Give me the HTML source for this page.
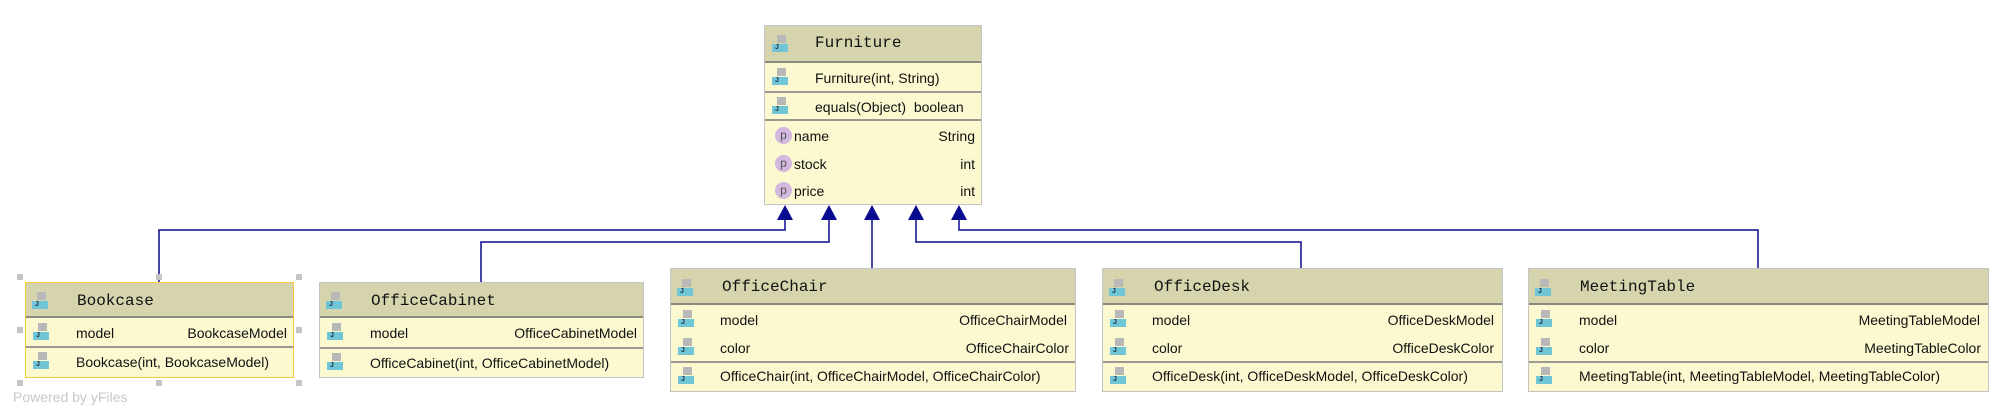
<!DOCTYPE html>
<html><head><meta charset="utf-8"><style>
body{margin:0;width:2013px;height:416px;background:#fff;position:relative;overflow:hidden;font-family:"Liberation Sans",sans-serif;}
.box{position:absolute;background:#fcf9d1;border:1px solid #c4c4c4;box-sizing:border-box;}
.hd{position:absolute;left:0;right:0;top:0;background:#d6d4ad;border-bottom:2px solid #8a8a80;box-sizing:border-box;}
.div{position:absolute;left:0;right:0;height:0;border-top:2px solid #9a9a90;}
.t{position:absolute;font-size:14px;color:#111;white-space:nowrap;line-height:16px;}
.h{position:absolute;font-family:"Liberation Mono",monospace;font-size:16px;color:#111;line-height:18px;}
.r{position:absolute;font-size:14px;color:#111;white-space:nowrap;line-height:16px;text-align:right;}
.ic{position:absolute;width:16px;height:18px;}
.ic:before{content:"";position:absolute;left:5px;top:0;width:9px;height:8px;background:#b8b8b8;}
.ic:after{content:"J";position:absolute;left:0;top:9px;width:16px;height:8px;background:#6fc6d6;font-size:7px;line-height:8px;color:#234;padding-left:3px;box-sizing:border-box;font-weight:bold;}
.p{position:absolute;width:17px;height:17px;border-radius:50%;background:#d3b8e0;color:#555;font-size:12px;line-height:16px;text-align:center;}
.hdl{position:absolute;width:6px;height:6px;background:#c4c4c4;}
</style></head><body>
<svg width="2013" height="416" style="position:absolute;left:0;top:0" fill="none" stroke="#0a0a90" stroke-width="1.5">
<polyline points="159,282 159,230 785,230 785,218"/>
<polyline points="481,282 481,242 829,242 829,218"/>
<polyline points="872,268 872,218"/>
<polyline points="1301,268 1301,242 916,242 916,218"/>
<polyline points="1758,268 1758,230 959,230 959,218"/>
<g fill="#0a0a90" stroke="none">
<polygon points="785,205 777,220 793,220"/>
<polygon points="829,205 821,220 837,220"/>
<polygon points="872,205 864,220 880,220"/>
<polygon points="916,205 908,220 924,220"/>
<polygon points="959,205 951,220 967,220"/>
</g>
</svg>

<!-- Furniture -->
<div class="box" style="left:764px;top:25px;width:218px;height:180px;">
<div class="hd" style="height:37px"></div>
<div class="ic" style="left:7px;top:9px"></div>
<div class="h" style="left:50px;top:8px">Furniture</div>
<div class="ic" style="left:7px;top:42px"></div>
<div class="t" style="left:50px;top:44px">Furniture(int, String)</div>
<div class="div" style="top:65px"></div>
<div class="ic" style="left:7px;top:71px"></div>
<div class="t" style="left:50px;top:73px">equals(Object)&nbsp; boolean</div>
<div class="div" style="top:93px"></div>
<div class="p" style="left:10px;top:101px">p</div>
<div class="t" style="left:29px;top:102px">name</div><div class="r" style="right:6px;top:102px">String</div>
<div class="p" style="left:10px;top:129px">p</div>
<div class="t" style="left:29px;top:130px">stock</div><div class="r" style="right:6px;top:130px">int</div>
<div class="p" style="left:10px;top:156px">p</div>
<div class="t" style="left:29px;top:157px">price</div><div class="r" style="right:6px;top:157px">int</div>
</div>

<!-- Bookcase -->
<div class="box" style="left:25px;top:282px;width:269px;height:96px;border:1.5px solid #f5c940;">
<div class="hd" style="height:35px"></div>
<div class="ic" style="left:6px;top:9px"></div>
<div class="h" style="left:51px;top:9px">Bookcase</div>
<div class="ic" style="left:7px;top:40px"></div>
<div class="t" style="left:50px;top:42px">model</div><div class="r" style="right:6px;top:42px">BookcaseModel</div>
<div class="div" style="top:63px"></div>
<div class="ic" style="left:7px;top:69px"></div>
<div class="t" style="left:50px;top:71px">Bookcase(int, BookcaseModel)</div>
</div>
<div class="hdl" style="left:17px;top:274px"></div><div class="hdl" style="left:156px;top:274px"></div><div class="hdl" style="left:296px;top:274px"></div>
<div class="hdl" style="left:17px;top:327px"></div><div class="hdl" style="left:296px;top:327px"></div>
<div class="hdl" style="left:17px;top:380px"></div><div class="hdl" style="left:156px;top:380px"></div><div class="hdl" style="left:296px;top:380px"></div>
<div style="position:absolute;left:13px;top:389px;font-size:14px;color:#c8c8c8;">Powered by yFiles</div>

<!-- OfficeCabinet -->
<div class="box" style="left:319px;top:282px;width:325px;height:96px;">
<div class="hd" style="height:35px"></div>
<div class="ic" style="left:6px;top:9px"></div>
<div class="h" style="left:51px;top:9px">OfficeCabinet</div>
<div class="ic" style="left:7px;top:40px"></div>
<div class="t" style="left:50px;top:42px">model</div><div class="r" style="right:6px;top:42px">OfficeCabinetModel</div>
<div class="div" style="top:64px"></div>
<div class="ic" style="left:7px;top:70px"></div>
<div class="t" style="left:50px;top:72px">OfficeCabinet(int, OfficeCabinetModel)</div>
</div>

<!-- OfficeChair -->
<div class="box" style="left:670px;top:268px;width:406px;height:124px;">
<div class="hd" style="height:36px"></div>
<div class="ic" style="left:6px;top:10px"></div>
<div class="h" style="left:51px;top:9px">OfficeChair</div>
<div class="ic" style="left:7px;top:41px"></div>
<div class="t" style="left:49px;top:43px">model</div><div class="r" style="right:8px;top:43px">OfficeChairModel</div>
<div class="ic" style="left:7px;top:69px"></div>
<div class="t" style="left:49px;top:71px">color</div><div class="r" style="right:6px;top:71px">OfficeChairColor</div>
<div class="div" style="top:92px"></div>
<div class="ic" style="left:7px;top:98px"></div>
<div class="t" style="left:49px;top:99px">OfficeChair(int, OfficeChairModel, OfficeChairColor)</div>
</div>

<!-- OfficeDesk -->
<div class="box" style="left:1102px;top:268px;width:401px;height:124px;">
<div class="hd" style="height:36px"></div>
<div class="ic" style="left:6px;top:10px"></div>
<div class="h" style="left:51px;top:9px">OfficeDesk</div>
<div class="ic" style="left:7px;top:41px"></div>
<div class="t" style="left:49px;top:43px">model</div><div class="r" style="right:8px;top:43px">OfficeDeskModel</div>
<div class="ic" style="left:7px;top:69px"></div>
<div class="t" style="left:49px;top:71px">color</div><div class="r" style="right:8px;top:71px">OfficeDeskColor</div>
<div class="div" style="top:92px"></div>
<div class="ic" style="left:7px;top:98px"></div>
<div class="t" style="left:49px;top:99px">OfficeDesk(int, OfficeDeskModel, OfficeDeskColor)</div>
</div>

<!-- MeetingTable -->
<div class="box" style="left:1528px;top:268px;width:461px;height:124px;">
<div class="hd" style="height:36px"></div>
<div class="ic" style="left:6px;top:10px"></div>
<div class="h" style="left:51px;top:9px">MeetingTable</div>
<div class="ic" style="left:7px;top:41px"></div>
<div class="t" style="left:50px;top:43px">model</div><div class="r" style="right:8px;top:43px">MeetingTableModel</div>
<div class="ic" style="left:7px;top:69px"></div>
<div class="t" style="left:50px;top:71px">color</div><div class="r" style="right:7px;top:71px">MeetingTableColor</div>
<div class="div" style="top:92px"></div>
<div class="ic" style="left:7px;top:98px"></div>
<div class="t" style="left:50px;top:99px">MeetingTable(int, MeetingTableModel, MeetingTableColor)</div>
</div>
</body></html>
